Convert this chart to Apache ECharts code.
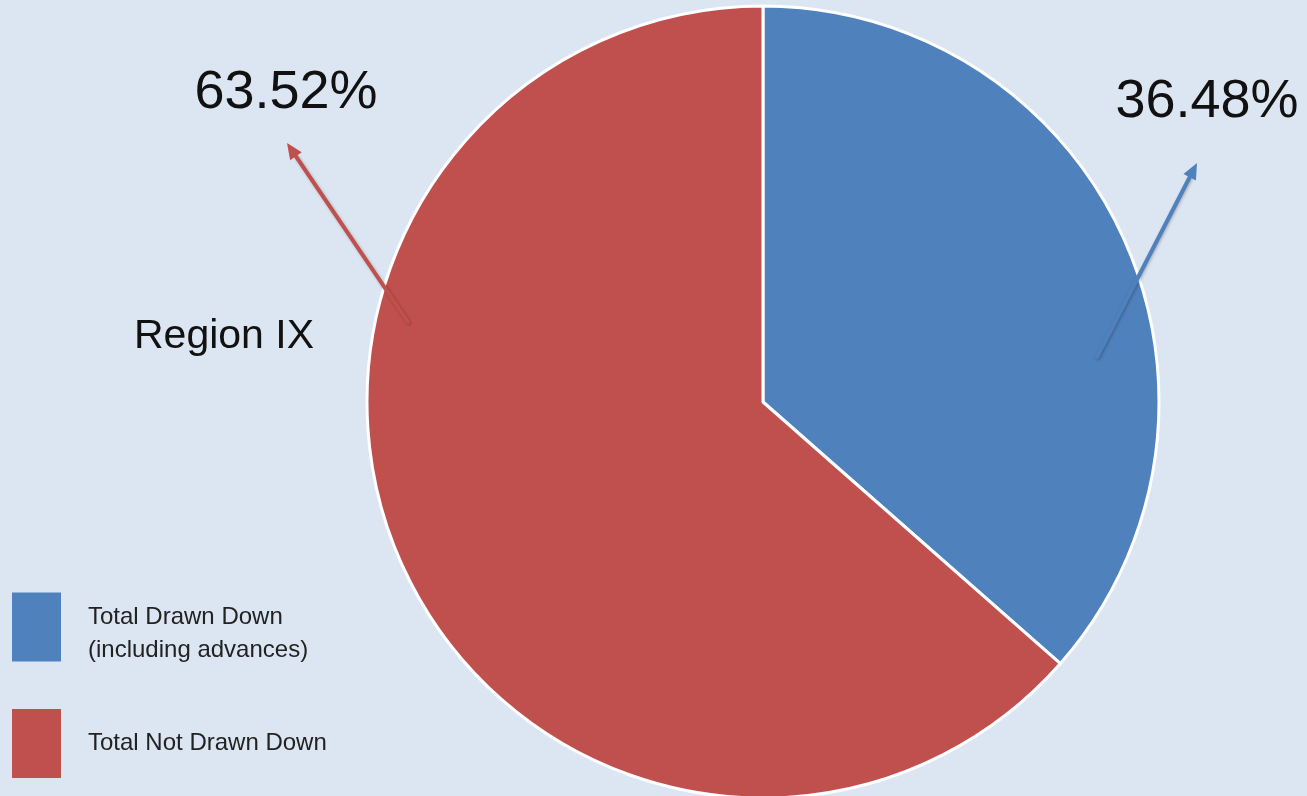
<!DOCTYPE html>
<html>
<head>
<meta charset="utf-8">
<script src="https://cdn.jsdelivr.net/npm/echarts@6/dist/echarts.min.js"></script>
<style>
	html,body{margin:0;padding:0;background:#dce6f2;}
	#charts{width:1307px;height:796px;}
</style>
</head>
<body>
<div id="charts"></div>
<script>
var categories = ['Total Drawn Down\n(including advances)', 'Total Not Drawn Down'];
var shares = [36.48, 63.52];
var colors = ['#4f81bd', '#c0504d'];

//arrow from a point inside the slice out to its label
function arrow(x1, y1, x2, y2, color){
	var ang = Math.atan2(y2 - y1, x2 - x1);
	var len = 16, half = 7;
	var bx = x2 - len * Math.cos(ang), by = y2 - len * Math.sin(ang);
	var px = -Math.sin(ang) * half, py = Math.cos(ang) * half;
	return {
		type : 'group',
		z : 100,
		children : [{
			type : 'line',
			z : 100,
			shape : {x1 : x1, y1 : y1, x2 : bx, y2 : by},
			style : {stroke : color, lineWidth : 4, lineCap : 'round', shadowBlur : 3, shadowColor : 'rgba(0,0,0,0.25)', shadowOffsetX : 1, shadowOffsetY : 1}
		},{
			type : 'polygon',
			z : 100,
			shape : {points : [[x2, y2], [bx + px, by + py], [bx - px, by - py]]},
			style : {fill : color}
		}]
	};
}

var charts = echarts.init(document.getElementById('charts'));
var pieData = [];
for(var i=0;i<categories.length;i++){
	pieData.push({name : categories[i], value : shares[i], itemStyle : {color : colors[i]}});
}
//label spots, same order as the data
var labelPos = [[1207, 102], [286, 93]];

var option = {
	backgroundColor : '#dce6f2',
	animation : false,
	legend : {
		orient : 'vertical',
		left : 12,
		top : 592,
		padding : 0,
		itemWidth : 49,
		itemHeight : 69,
		itemGap : 47,
		icon : 'rect',
		selectedMode : false,
		itemStyle : {borderWidth : 0},
		formatter : function(name){
			var lines = name.split('\n');
			//two-line names sit a bit lower than the box centre
			if(lines.length > 1){
				return '{s| }\n{t|' + lines.join('}\n{t|') + '}';
			}
			return '{t|' + name + '}';
		},
		textStyle : {
			padding : [0, 0, 0, 22],
			rich : {
				t : {fontFamily : 'Liberation Sans', fontSize : 24, lineHeight : 33, color : '#222'},
				s : {fontSize : 4, lineHeight : 13}
			}
		},
		data : categories
	},
	graphic : [{
		type : 'text',
		left : 134,
		top : 316,
		z : 100,
		style : {text : 'Region IX', fontFamily : 'Liberation Sans', fontSize : 41, fill : '#111'}
	},
	arrow(408, 322, 287, 143, colors[1]),
	arrow(1097, 357, 1197, 163, colors[0])],
	series : [{
		type : 'pie',
		center : [763, 402],
		radius : 396,
		startAngle : 90,
		clockwise : true,
		silent : true,
		itemStyle : {borderColor : '#ffffff', borderWidth : 3},
		label : {
			show : true,
			formatter : '{d}%',
			fontFamily : 'Liberation Sans',
			fontSize : 54,
			color : '#111',
			overflow : 'none'
		},
		labelLine : {show : false},
		labelLayout : function(params){
			var p = labelPos[params.dataIndex];
			return {x : p[0], y : p[1], align : 'center', verticalAlign : 'middle'};
		},
		data : pieData
	}]
};
charts.setOption(option);
</script>
</body>
</html>
